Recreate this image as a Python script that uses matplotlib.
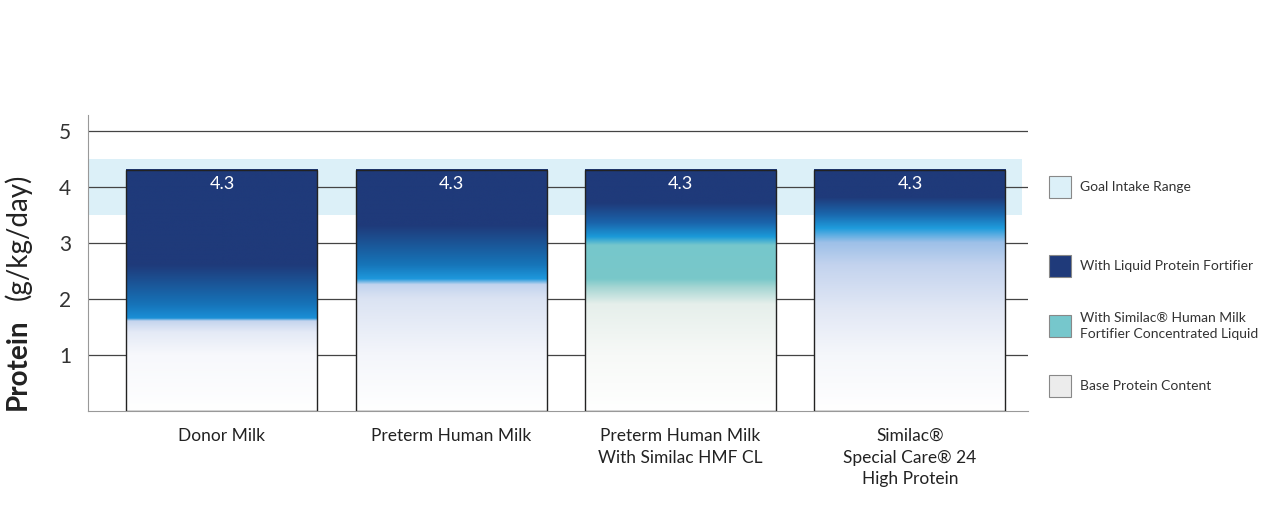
import matplotlib
matplotlib.use("Agg")
import matplotlib.pyplot as plt
import numpy as np
from matplotlib.patches import Rectangle
from matplotlib.colors import to_rgb

plt.rcParams['font.family'] = ['Lato', 'DejaVu Sans']

categories = ["Donor Milk", "Preterm Human Milk", "Preterm Human Milk\nWith Similac HMF CL",
              "Similac\u00ae\nSpecial Care\u00ae 24\nHigh Protein"]
values = [4.3, 4.3, 4.3, 4.3]
goal_low, goal_high = 3.5, 4.5
yticks = [1, 2, 3, 4, 5]

NAVY = "#1f3a7a"
stops = [
    [(0, "#ffffff"), (1.0, "#f7f8fc"), (1.4, "#e4eaf6"), (1.6, "#c5d4ee"), (1.65, "#1a8fd6"),
     (1.9, "#1673b8"), (2.6, NAVY), (4.3, NAVY)],
    [(0, "#ffffff"), (1.0, "#f4f6fb"), (2.0, "#dbe3f3"), (2.25, "#c2d3ee"), (2.35, "#1e98dc"),
     (2.6, "#1675b9"), (3.3, NAVY), (4.3, NAVY)],
    [(0, "#ffffff"), (1.0, "#f7f9f7"), (1.9, "#e6efeb"), (2.2, "#a5d6d3"), (2.35, "#79c8c9"),
     (2.95, "#76c7cc"), (3.1, "#1b9ad8"), (3.35, "#1a64ab"), (3.7, NAVY), (4.3, NAVY)],
    [(0, "#ffffff"), (1.0, "#f5f7fb"), (1.8, "#e2e8f5"), (2.6, "#c3d3ee"), (3.0, "#9dc0e8"),
     (3.25, "#1f9cdc"), (3.5, "#1a67ad"), (3.8, NAVY), (4.3, NAVY)],
]

fig = plt.figure(figsize=(12.8, 5.13), dpi=100)
ax = fig.add_axes([88/1280, 1-411/513, 940/1280, (411-115)/513])
x = np.arange(len(categories))
w = 0.833
ax.set_xlim(-0.584, 3.515)
ax.set_ylim(0, 5.28)

ax.axhspan(goal_low, goal_high, xmin=0, xmax=(1022-88)/940, color="#dcf0f8", zorder=0, lw=0)
for t in yticks:
    ax.axhline(t, color="#444444", lw=0.9, zorder=1)

for i, (xi, v) in enumerate(zip(x, values)):
    ys = np.linspace(0, v, 400)
    sv = [s[0] for s in stops[i]]
    cols = np.array([to_rgb(s[1]) for s in stops[i]])
    img = np.stack([np.interp(ys, sv, cols[:, k]) for k in range(3)], axis=-1)[:, None, :]
    ax.imshow(img, extent=[xi - w/2, xi + w/2, 0, v], aspect='auto', origin='lower', zorder=3)
    ax.add_patch(Rectangle((xi - w/2, 0), w, v, fill=False, ec="#222222", lw=1, zorder=4))
    ax.text(xi, v - 0.1, f"{v}", color="white", ha="center", va="top", fontsize=13, zorder=5)

ax.set_xlim(-0.584, 3.515)
ax.set_ylim(0, 5.28)
ax.set_yticks(yticks)
ax.set_yticklabels([str(t) for t in yticks], fontsize=15, color="#333333")
ax.tick_params(axis='y', length=0, pad=12)
ax.set_xticks(x)
ax.set_xticklabels(categories, fontsize=12.5, color="#222222", linespacing=1.45)
ax.tick_params(axis='x', length=0, pad=12)
for s in ["top", "right"]:
    ax.spines[s].set_visible(False)
for s in ["left", "bottom"]:
    ax.spines[s].set_color("#999999")

fig.text(18/1280, 1-410/513, "Protein", rotation=90, rotation_mode='anchor', ha='left', va='center',
         fontsize=20, fontweight='bold', color="#222222")
fig.text(18/1280, 1-300/513, "(g/kg/day)", rotation=90, rotation_mode='anchor', ha='left', va='center',
         fontsize=20, color="#222222")

legend = [("Goal Intake Range", "#dcf0f8", 187),
          ("With Liquid Protein Fortifier", NAVY, 266),
          ("With Similac\u00ae Human Milk\nFortifier Concentrated Liquid", "#76c7cc", 326),
          ("Base Protein Content", "#ececec", 386)]
for lab, col, yc in legend:
    fig.patches.append(Rectangle((1049/1280, 1-(yc+11)/513), 22/1280, 22/513, transform=fig.transFigure,
                                 fc=col, ec="#888888", lw=0.8))
    fig.text(1080/1280, 1-yc/513, lab, ha='left', va='center', fontsize=10, color="#333333", linespacing=1.5)

fig.savefig("out.png", dpi=100)
